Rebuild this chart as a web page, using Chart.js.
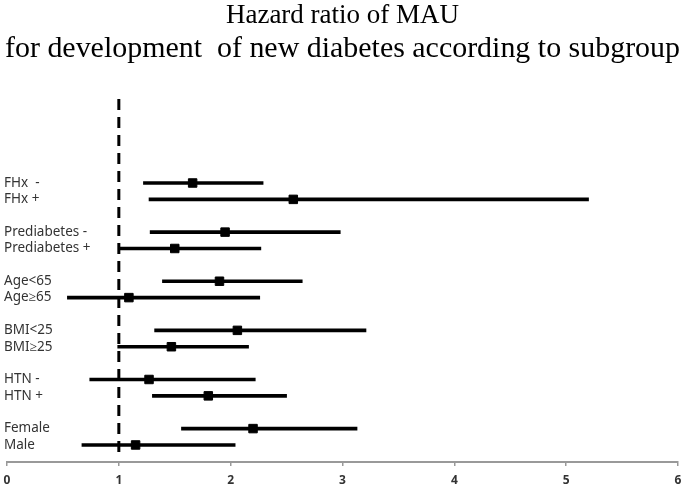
<!DOCTYPE html>
<html>
<head>
<meta charset="utf-8">
<script src="https://cdn.jsdelivr.net/npm/chart.js@4"></script>
<style>
  html, body { margin: 0; padding: 0; background: #fff; }
  #wrap { width: 685px; height: 486px; }
</style>
</head>
<body>
<div id="wrap"><canvas id="forest"></canvas></div>
<script>
// ---------------------- Data ----------------------
const subgroups = [
  "FHx  -", "FHx +",
  "Prediabetes -", "Prediabetes +",
  "Age<65", "Age\u226565",
  "BMI<25", "BMI\u226525",
  "HTN -", "HTN +",
  "Female", "Male"
];
const hazardRatio = [1.66, 2.56, 1.95, 1.50, 1.90, 1.09, 2.06, 1.47, 1.27, 1.80, 2.20, 1.15];
const ciLower     = [1.22, 1.27, 1.28, 1.00, 1.39, 0.54, 1.32, 0.99, 0.74, 1.30, 1.56, 0.67];
const ciUpper     = [2.29, 5.20, 2.98, 2.27, 2.64, 2.26, 3.21, 2.16, 2.22, 2.50, 3.13, 2.04];
const xTicks = [0, 1, 2, 3, 4, 5, 6];
const refValue = 1;

// two subgroups per group, one empty row between groups
const rowOf = subgroups.map((s, i) => i + Math.floor(i / 2));

// ---------------------- Reference line ----------------------
const refLine = {
  id: "refLine",
  beforeDatasetsDraw(chart) {
    const { ctx, chartArea, scales } = chart;
    const x = scales.x.getPixelForValue(refValue);
    ctx.save();
    ctx.strokeStyle = "#000";
    ctx.lineWidth = 3;
    ctx.setLineDash([11, 7]);
    ctx.beginPath();
    ctx.moveTo(x, chartArea.top);
    ctx.lineTo(x, chartArea.bottom - 4);
    ctx.stroke();
    ctx.restore();
  }
};

// ---------------------- Chart ----------------------
new Chart(document.getElementById("forest"), {
  type: "bar",
  data: {
    datasets: [
      {
        type: "bar",
        indexAxis: "y",
        label: "95% CI",
        data: subgroups.map((s, i) => ({ x: [ciLower[i], ciUpper[i]], y: rowOf[i] })),
        backgroundColor: "#000",
        barThickness: 3,
        borderWidth: 0,
        order: 2
      },
      {
        type: "scatter",
        label: "Hazard ratio",
        data: subgroups.map((s, i) => ({ x: hazardRatio[i], y: rowOf[i] })),
        pointStyle: "rect",
        pointRadius: 6,
        backgroundColor: "#000",
        borderColor: "#000",
        borderWidth: 1,
        order: 1
      }
    ]
  },
  options: {
    responsive: true,
    maintainAspectRatio: false,
    animation: false,
    layout: { padding: { left: 5, right: 5, top: 0, bottom: 0 } },
    plugins: {
      legend: { display: false },
      tooltip: { enabled: false },
      title: {
        display: true,
        text: "Hazard ratio of MAU",
        color: "#000",
        font: { family: "Liberation Serif", size: 27, weight: "normal", lineHeight: 1.2 },
        padding: { top: 0, bottom: 0 }
      },
      subtitle: {
        display: true,
        text: "for development  of new diabetes according to subgroup",
        color: "#000",
        font: { family: "Liberation Serif", size: 30, weight: "normal", lineHeight: 1.1 },
        padding: { top: 0, bottom: 33.6 }
      }
    },
    scales: {
      x: {
        type: "linear",
        offset: false,
        min: 0,
        max: 6,
        afterBuildTicks: axis => { axis.ticks = xTicks.map(v => ({ value: v })); },
        afterFit: axis => {
          axis.paddingLeft = 0;
          axis.paddingRight = 0;
          axis.height = 24;
        },
        ticks: {
          color: "#333",
          padding: 9,
          font: { family: "Noto Sans", size: 12, weight: "bold", lineHeight: 1 }
        },
        grid: { offset: false, drawOnChartArea: false, drawTicks: true, tickLength: 4, color: "#999", lineWidth: 1.5 },
        border: { display: true, color: "#999", width: 2 }
      },
      y: {
        type: "linear",
        offset: false,
        reverse: true,
        min: -5.13,
        max: 17.04,
        afterBuildTicks: axis => { axis.ticks = rowOf.map(v => ({ value: v })); },
        afterFit: axis => {
          axis.width = 0;
          axis.paddingTop = 0;
          axis.paddingBottom = 0;
        },
        ticks: {
          mirror: true,
          padding: -3,
          color: "#333",
          font: { family: "Noto Sans", size: 13.5 },
          callback: v => subgroups[rowOf.indexOf(v)]
        },
        grid: { display: false, drawTicks: false, offset: false },
        border: { display: false }
      }
    }
  },
  plugins: [refLine]
});
</script>
</body>
</html>
